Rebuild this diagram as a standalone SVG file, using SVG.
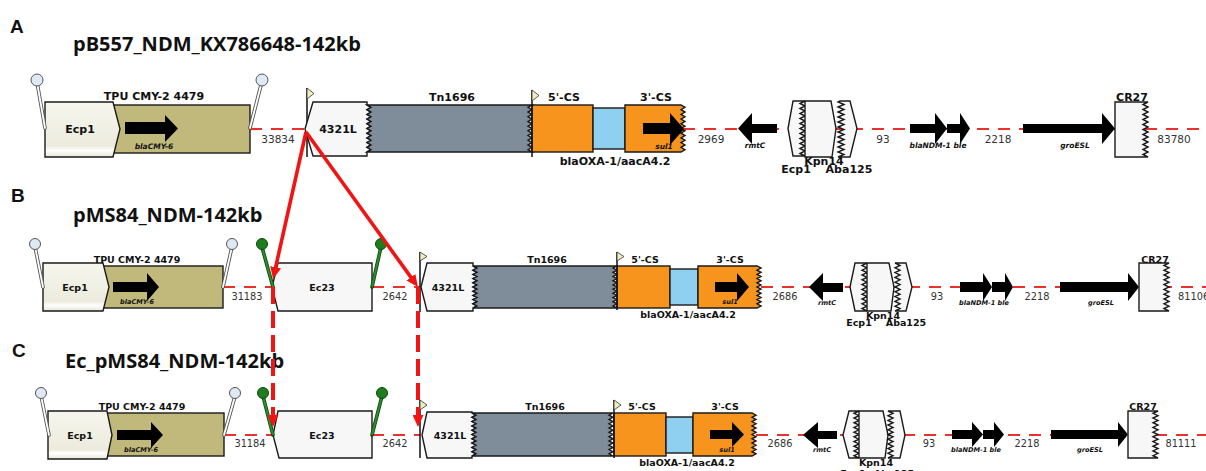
<svg xmlns="http://www.w3.org/2000/svg" width="1206" height="471" viewBox="0 0 1206 471">
<style>
.bx{stroke:#1a1a1a;stroke-width:1.4;stroke-linejoin:miter}
.ol{fill:#c1b97b}.lt{fill:#f7f7f7}.gr{fill:#7f8c99}.or{fill:#f7941d}.bl{fill:#8fd0f0}
.ar{fill:#000}
.vl{stroke:#111;stroke-width:1.5}
.flag{fill:#f1edbd;stroke:#333;stroke-width:0.8}
.bb{stroke:#e8322b;stroke-width:2.2;stroke-dasharray:12 9;fill:none}
.ws{stroke:#555;stroke-width:3.6;stroke-linecap:round}
.wi{stroke:#fff;stroke-width:1.8;stroke-linecap:round}
.wc{fill:#dfe9f3;stroke:#555;stroke-width:1}
.gs{stroke:#0c4a0c;stroke-width:3.6;stroke-linecap:round}
.gi{stroke:#2e8b2e;stroke-width:2}
.gc{fill:#1f7d1f;stroke:#0c4a0c;stroke-width:1}
.big{font-family:"Open Sans","DejaVu Sans",sans-serif;font-weight:bold;font-size:20px;fill:#111}
.let{font-family:"Liberation Sans",Arial,sans-serif;font-weight:bold;font-size:19px;fill:#111}
.la{font-family:"DejaVu Sans",sans-serif;font-weight:bold;font-size:11px;fill:#111;text-anchor:middle}
.lb{font-family:"DejaVu Sans",sans-serif;font-weight:bold;font-size:9.5px;fill:#111;text-anchor:middle}
.na{font-family:"DejaVu Sans",sans-serif;font-size:10.5px;fill:#333;text-anchor:middle}
.nb{font-family:"DejaVu Sans",sans-serif;font-size:9.8px;fill:#333;text-anchor:middle}
.ia{font-family:"DejaVu Sans",sans-serif;font-weight:bold;font-style:italic;font-size:7.5px;fill:#111;text-anchor:middle}
.ib{font-family:"DejaVu Sans",sans-serif;font-weight:bold;font-style:italic;font-size:6.6px;fill:#111;text-anchor:middle}
.red{stroke:#f01414;stroke-width:3.6;fill:none}
.rdash{stroke:#f01414;stroke-width:4;fill:none;stroke-dasharray:17 7}
</style>
<defs>
<linearGradient id="eg" x1="0" y1="0" x2="0" y2="1">
<stop offset="0" stop-color="#f6f6ee"/><stop offset="0.8" stop-color="#ecebdd"/><stop offset="0.88" stop-color="#ffffff"/><stop offset="1" stop-color="#e8e7d8"/>
</linearGradient>
<marker id="ah" markerWidth="12" markerHeight="11" refX="2" refY="5.5" orient="auto" markerUnits="userSpaceOnUse"><path d="M0,0 L12,5.5 L0,11 Z" fill="#f01414"/></marker>
</defs>

<g id="backbones">
<line class="bb" x1="250" y1="129" x2="307" y2="129"/>
<line class="bb" x1="683" y1="129" x2="1206" y2="129"/>
<line class="bb" x1="223" y1="287" x2="273" y2="287"/>
<line class="bb" x1="372" y1="287" x2="420" y2="287"/>
<line class="bb" x1="761" y1="287" x2="1206" y2="287"/>
<line class="bb" x1="224" y1="435" x2="273" y2="435"/>
<line class="bb" x1="372" y1="435" x2="420" y2="435"/>
<line class="bb" x1="756" y1="435" x2="1206" y2="435"/>
</g>

<g id="rowA">
<text class="let" x="10" y="33">A</text>
<text class="big" x="73" y="51">pB557_NDM_KX786648-142kb</text>
<g id="A-tpu">
<rect class="bx ol" x="105" y="105" width="145" height="48"/>
<path class="bx" fill="url(#eg)" d="M45,102 H113 L120,129 L113,157 H45 Z"/>
<text class="la" x="80" y="133">Ecp1</text>
<text class="la" x="154" y="100">TPU CMY-2 4479</text>
<path class="ar" d="M125,122 H165 V115 L178,128.5 L165,142 V134 H125 Z"/>
<text class="ia" x="154" y="149">blaCMY-6</text>
<line class="ws" x1="45" y1="128" x2="37.5" y2="85"/><line class="wi" x1="45" y1="128" x2="37.5" y2="85"/>
<circle class="wc" cx="37" cy="80" r="6"/>
<line class="ws" x1="250" y1="128" x2="261" y2="85"/><line class="wi" x1="250" y1="128" x2="261" y2="85"/>
<circle class="wc" cx="262" cy="80" r="6"/>
</g>
<text class="na" x="278" y="143">33834</text>
<g id="A-tn">
<line class="vl" x1="307" y1="88" x2="307" y2="157"/>
<path class="flag" d="M307,88 L314,93.5 L307,99 Z"/>
<path class="bx lt" d="M305,129 L313,102 H367 V105 l4,2.35l-4,2.35l4,2.35l-4,2.35l4,2.35l-4,2.35l4,2.35l-4,2.35l4,2.35l-4,2.35l4,2.35l-4,2.35l4,2.35l-4,2.35l4,2.35l-4,2.35l4,2.35l-4,2.35l4,2.35l-4,2.35 V156 H313 Z"/>
<text class="la" x="338" y="133">4321L</text>
<path class="bx gr" d="M367,105 H532 l-4,2.35l4,2.35l-4,2.35l4,2.35l-4,2.35l4,2.35l-4,2.35l4,2.35l-4,2.35l4,2.35l-4,2.35l4,2.35l-4,2.35l4,2.35l-4,2.35l4,2.35l-4,2.35l4,2.35l-4,2.35l4,2.35 H367 l4,-2.35l-4,-2.35l4,-2.35l-4,-2.35l4,-2.35l-4,-2.35l4,-2.35l-4,-2.35l4,-2.35l-4,-2.35l4,-2.35l-4,-2.35l4,-2.35l-4,-2.35l4,-2.35l-4,-2.35l4,-2.35l-4,-2.35l4,-2.35l-4,-2.35 Z"/>
<text class="la" x="452" y="101">Tn1696</text>
<rect class="bx or" x="532" y="105" width="61" height="47"/>
<rect class="bx bl" x="593" y="108" width="32" height="41"/>
<path class="bx or" d="M625,105 H681 l4,2.35l-4,2.35l4,2.35l-4,2.35l4,2.35l-4,2.35l4,2.35l-4,2.35l4,2.35l-4,2.35l4,2.35l-4,2.35l4,2.35l-4,2.35l4,2.35l-4,2.35l4,2.35l-4,2.35l4,2.35l-4,2.35 H625 Z"/>
<line class="vl" x1="532" y1="90" x2="532" y2="157"/>
<path class="flag" d="M532,90 L539,95.5 L532,101 Z"/>
<text class="la" x="564" y="101">5'-CS</text>
<text class="la" x="656" y="101">3'-CS</text>
<path class="ar" d="M643,123 H670 V113 L684,129 L670,145 V134 H643 Z"/>
<text class="ia" x="664" y="149">sul1</text>
<text class="la" x="615" y="165">blaOXA-1/aacA4.2</text>
</g>
<text class="na" x="711" y="143">2969</text>
<g id="A-right">
<path class="ar" d="M738,128.5 L752,113 V124 H777 V133 H752 V144 Z"/>
<text class="ia" x="755" y="148">rmtC</text>
<path class="bx lt" d="M788,128.5 L793,101 H805 l-5,2.5l5,2.5l-5,2.5l5,2.5l-5,2.5l5,2.5l-5,2.5l5,2.5l-5,2.5l5,2.5l-5,2.5l5,2.5l-5,2.5l5,2.5l-5,2.5l5,2.5l-5,2.5l5,2.5l-5,2.5l5,2.5l-5,2.5l5,2.5 H793 Z"/>
<path class="bx lt" d="M805,101 H831 L836,128.5 L832,157 H805 Z"/>
<path class="bx lt" d="M840,101 H850 L857,128.5 L850,157 H838 l6,-2.5l-6,-2.5l6,-2.5l-6,-2.5l6,-2.5l-6,-2.5l6,-2.5l-6,-2.5l6,-2.5l-6,-2.5l6,-2.5l-6,-2.5l6,-2.5l-6,-2.5l6,-2.5l-6,-2.5l6,-2.5l-6,-2.5l6,-2.5l-6,-2.5l6,-2.5l-6,-2.5 Z"/>
<text class="la" x="824" y="165">Kpn14</text>
<text class="la" x="796" y="173">Ecp1</text>
<text class="la" x="849" y="173">Aba125</text>
<text class="na" x="883" y="143">93</text>
<path class="ar" d="M910,124 H935 V113 L947,128.5 L935,144 V133 H910 Z"/>
<path class="ar" d="M947,124 H960 V113 L970,128.5 L960,144 V133 H947 Z"/>
<text class="ia" x="938" y="148">blaNDM-1 ble</text>
<text class="na" x="998" y="143">2218</text>
<path class="ar" d="M1023,124 H1102 V113 L1115,128.5 L1102,144 V133 H1023 Z"/>
<text class="ia" x="1075" y="148">groESL</text>
<path class="bx lt" d="M1115,102 H1148 l-5,2.5l5,2.5l-5,2.5l5,2.5l-5,2.5l5,2.5l-5,2.5l5,2.5l-5,2.5l5,2.5l-5,2.5l5,2.5l-5,2.5l5,2.5l-5,2.5l5,2.5l-5,2.5l5,2.5l-5,2.5l5,2.5l-5,2.5l5,2.5 H1115 Z"/>
<text class="la" x="1132" y="101">CR27</text>
<text class="na" x="1174" y="143">83780</text>
</g>
</g>

<g id="rowB">
<text class="let" x="11" y="202">B</text>
<text class="big" x="73" y="222">pMS84_NDM-142kb</text>
<g id="B-tpu">
<rect class="bx ol" x="100" y="266" width="123" height="42"/>
<path class="bx" fill="url(#eg)" d="M43,263 H103 L109,287 L103,311 H43 Z"/>
<text class="lb" x="75" y="290.5">Ecp1</text>
<text class="lb" x="137" y="263">TPU CMY-2 4479</text>
<path class="ar" d="M113,282 H147 V273 L159,287 L147,301 V292 H113 Z"/>
<text class="ib" x="137" y="304">blaCMY-6</text>
<line class="ws" x1="43" y1="287" x2="35.5" y2="249"/><line class="wi" x1="43" y1="287" x2="35.5" y2="249"/>
<circle class="wc" cx="35" cy="244" r="5.5"/>
<line class="ws" x1="223" y1="287" x2="231.5" y2="249"/><line class="wi" x1="223" y1="287" x2="231.5" y2="249"/>
<circle class="wc" cx="232" cy="244" r="5.5"/>
</g>
<text class="nb" x="247" y="300">31183</text>
<g id="B-ec23">
<path class="bx lt" d="M272,287 L278,263 H372 V311 H278 Z"/>
<text class="lb" x="322" y="290.5">Ec23</text>
<line class="gs" x1="273" y1="287" x2="262.5" y2="249"/><line class="gi" x1="273" y1="287" x2="262.5" y2="249"/>
<circle class="gc" cx="262" cy="244" r="5.5"/>
<line class="gs" x1="372" y1="287" x2="380.5" y2="249"/><line class="gi" x1="372" y1="287" x2="380.5" y2="249"/>
<circle class="gc" cx="381" cy="244" r="5.5"/>
</g>
<text class="nb" x="395" y="300">2642</text>
<g id="B-tn">
<line class="vl" x1="420" y1="252" x2="420" y2="312"/>
<path class="flag" d="M420,252 L427,256.5 L420,261 Z"/>
<path class="bx lt" d="M421,287 L427,263 H473 V266 l4,2.1l-4,2.1l4,2.1l-4,2.1l4,2.1l-4,2.1l4,2.1l-4,2.1l4,2.1l-4,2.1l4,2.1l-4,2.1l4,2.1l-4,2.1l4,2.1l-4,2.1l4,2.1l-4,2.1l4,2.1l-4,2.1 V311 H427 Z"/>
<text class="lb" x="448" y="290.5">4321L</text>
<path class="bx gr" d="M473,266 H617 l-4,2.1l4,2.1l-4,2.1l4,2.1l-4,2.1l4,2.1l-4,2.1l4,2.1l-4,2.1l4,2.1l-4,2.1l4,2.1l-4,2.1l4,2.1l-4,2.1l4,2.1l-4,2.1l4,2.1l-4,2.1l4,2.1 H473 l4,-2.1l-4,-2.1l4,-2.1l-4,-2.1l4,-2.1l-4,-2.1l4,-2.1l-4,-2.1l4,-2.1l-4,-2.1l4,-2.1l-4,-2.1l4,-2.1l-4,-2.1l4,-2.1l-4,-2.1l4,-2.1l-4,-2.1l4,-2.1l-4,-2.1 Z"/>
<text class="lb" x="547" y="263">Tn1696</text>
<rect class="bx or" x="617" y="266" width="53" height="42"/>
<rect class="bx bl" x="670" y="269" width="28" height="36"/>
<path class="bx or" d="M698,266 H757 l4,2.1l-4,2.1l4,2.1l-4,2.1l4,2.1l-4,2.1l4,2.1l-4,2.1l4,2.1l-4,2.1l4,2.1l-4,2.1l4,2.1l-4,2.1l4,2.1l-4,2.1l4,2.1l-4,2.1l4,2.1l-4,2.1 H698 Z"/>
<line class="vl" x1="617" y1="252" x2="617" y2="310"/>
<path class="flag" d="M617,252 L624,256.5 L617,261 Z"/>
<text class="lb" x="645" y="263">5'-CS</text>
<text class="lb" x="730" y="263">3'-CS</text>
<path class="ar" d="M715,282 H737 V273 L749,287 L737,301 V292 H715 Z"/>
<text class="ib" x="730" y="304">sul1</text>
<text class="lb" x="688" y="318">blaOXA-1/aacA4.2</text>
</g>
<text class="nb" x="785" y="300">2686</text>
<g id="B-right">
<path class="ar" d="M809,287 L823,273 V283 H843 V292 H823 V301 Z"/>
<text class="ib" x="827" y="305">rmtC</text>
<path class="bx lt" d="M850,287 L855,263 H867 l-5,2.4l5,2.4l-5,2.4l5,2.4l-5,2.4l5,2.4l-5,2.4l5,2.4l-5,2.4l5,2.4l-5,2.4l5,2.4l-5,2.4l5,2.4l-5,2.4l5,2.4l-5,2.4l5,2.4l-5,2.4l5,2.4 H855 Z"/>
<path class="bx lt" d="M867,263 H889 L894,287 L891,311 H867 Z"/>
<path class="bx lt" d="M900,263 H906 L912,287 L906,311 H895 l5,-2.4l-5,-2.4l5,-2.4l-5,-2.4l5,-2.4l-5,-2.4l5,-2.4l-5,-2.4l5,-2.4l-5,-2.4l5,-2.4l-5,-2.4l5,-2.4l-5,-2.4l5,-2.4l-5,-2.4l5,-2.4l-5,-2.4l5,-2.4l-5,-2.4 Z"/>
<text class="lb" x="883" y="319">Kpn14</text>
<text class="lb" x="859" y="326">Ecp1</text>
<text class="lb" x="906" y="326">Aba125</text>
<text class="nb" x="937" y="300">93</text>
<path class="ar" d="M960,282 H983 V273 L992,287 L983,301 V292 H960 Z"/>
<path class="ar" d="M992,282 H1005 V273 L1013,287 L1005,301 V292 H992 Z"/>
<text class="ib" x="984" y="305">blaNDM-1 ble</text>
<text class="nb" x="1037" y="300">2218</text>
<path class="ar" d="M1060,282 H1128 V273 L1139,287 L1128,301 V292 H1060 Z"/>
<text class="ib" x="1101" y="305">groESL</text>
<path class="bx lt" d="M1139,263 H1169 l-5,2.4l5,2.4l-5,2.4l5,2.4l-5,2.4l5,2.4l-5,2.4l5,2.4l-5,2.4l5,2.4l-5,2.4l5,2.4l-5,2.4l5,2.4l-5,2.4l5,2.4l-5,2.4l5,2.4l-5,2.4l5,2.4 H1139 Z"/>
<text class="lb" x="1155" y="263">CR27</text>
<text class="nb" x="1178" y="300" style="text-anchor:start">81106</text>
</g>
</g>

<g id="rowC">
<text class="let" x="12" y="357">C</text>
<text class="big" x="65" y="368">Ec_pMS84_NDM-142kb</text>
<g id="C-tpu">
<rect class="bx ol" x="105" y="413" width="119" height="43"/>
<path class="bx" fill="url(#eg)" d="M48,411 H107 L112,435 L107,459 H48 Z"/>
<text class="lb" x="80" y="438.5">Ecp1</text>
<text class="lb" x="142" y="410">TPU CMY-2 4479</text>
<path class="ar" d="M117,430 H151 V422 L163,435 L151,448 V440 H117 Z"/>
<text class="ib" x="141" y="452">blaCMY-6</text>
<line class="ws" x1="49" y1="435" x2="41.5" y2="398"/><line class="wi" x1="49" y1="435" x2="41.5" y2="398"/>
<circle class="wc" cx="41" cy="393" r="5.5"/>
<line class="ws" x1="224" y1="435" x2="234.5" y2="398"/><line class="wi" x1="224" y1="435" x2="234.5" y2="398"/>
<circle class="wc" cx="235" cy="393" r="5.5"/>
</g>
<text class="nb" x="250" y="447">31184</text>
<g id="C-ec23">
<path class="bx lt" d="M273,435 L278,411 H372 V458 H279 Z"/>
<text class="lb" x="322" y="438.5">Ec23</text>
<line class="gs" x1="273" y1="435" x2="263.5" y2="398"/><line class="gi" x1="273" y1="435" x2="263.5" y2="398"/>
<circle class="gc" cx="263" cy="393" r="5.5"/>
<line class="gs" x1="372" y1="435" x2="381.5" y2="398"/><line class="gi" x1="372" y1="435" x2="381.5" y2="398"/>
<circle class="gc" cx="382" cy="393" r="5.5"/>
</g>
<text class="nb" x="395" y="447">2642</text>
<g id="C-tn">
<line class="vl" x1="420" y1="400" x2="420" y2="458"/>
<path class="flag" d="M420,400 L427,405 L420,410 Z"/>
<path class="bx lt" d="M422,435 L427,412 H472 V413 l4,2.15l-4,2.15l4,2.15l-4,2.15l4,2.15l-4,2.15l4,2.15l-4,2.15l4,2.15l-4,2.15l4,2.15l-4,2.15l4,2.15l-4,2.15l4,2.15l-4,2.15l4,2.15l-4,2.15l4,2.15l-4,2.15 V458 H427 Z"/>
<text class="lb" x="450" y="438.5">4321L</text>
<path class="bx gr" d="M472,413 H613 l-4,2.15l4,2.15l-4,2.15l4,2.15l-4,2.15l4,2.15l-4,2.15l4,2.15l-4,2.15l4,2.15l-4,2.15l4,2.15l-4,2.15l4,2.15l-4,2.15l4,2.15l-4,2.15l4,2.15l-4,2.15l4,2.15 H472 l4,-2.15l-4,-2.15l4,-2.15l-4,-2.15l4,-2.15l-4,-2.15l4,-2.15l-4,-2.15l4,-2.15l-4,-2.15l4,-2.15l-4,-2.15l4,-2.15l-4,-2.15l4,-2.15l-4,-2.15l4,-2.15l-4,-2.15l4,-2.15l-4,-2.15 Z"/>
<text class="lb" x="545" y="410">Tn1696</text>
<rect class="bx or" x="614" y="413" width="52" height="43"/>
<rect class="bx bl" x="666" y="417" width="27" height="36"/>
<path class="bx or" d="M693,413 H752 l4,2.15l-4,2.15l4,2.15l-4,2.15l4,2.15l-4,2.15l4,2.15l-4,2.15l4,2.15l-4,2.15l4,2.15l-4,2.15l4,2.15l-4,2.15l4,2.15l-4,2.15l4,2.15l-4,2.15l4,2.15l-4,2.15 H693 Z"/>
<line class="vl" x1="614" y1="400" x2="614" y2="458"/>
<path class="flag" d="M614,400 L621,405 L614,410 Z"/>
<text class="lb" x="642" y="410">5'-CS</text>
<text class="lb" x="725" y="410">3'-CS</text>
<path class="ar" d="M710,430 H732 V422 L744,434.5 L732,447 V439 H710 Z"/>
<text class="ib" x="727" y="452">sul1</text>
<text class="lb" x="687" y="466">blaOXA-1/aacA4.2</text>
</g>
<text class="nb" x="780" y="447">2686</text>
<g id="C-right">
<path class="ar" d="M803,435 L818,422 V431 H837 V439 H818 V448 Z"/>
<text class="ib" x="822" y="452">rmtC</text>
<path class="bx lt" d="M843,435 L849,411 H859 l-5,2.35l5,2.35l-5,2.35l5,2.35l-5,2.35l5,2.35l-5,2.35l5,2.35l-5,2.35l5,2.35l-5,2.35l5,2.35l-5,2.35l5,2.35l-5,2.35l5,2.35l-5,2.35l5,2.35l-5,2.35l5,2.35 H849 Z"/>
<path class="bx lt" d="M859,411 H883 L888,435 L885,458 H859 Z"/>
<path class="bx lt" d="M893,411 H900 L905,435 L900,458 H888 l5,-2.35l-5,-2.35l5,-2.35l-5,-2.35l5,-2.35l-5,-2.35l5,-2.35l-5,-2.35l5,-2.35l-5,-2.35l5,-2.35l-5,-2.35l5,-2.35l-5,-2.35l5,-2.35l-5,-2.35l5,-2.35l-5,-2.35l5,-2.35l-5,-2.35 Z"/>
<text class="lb" x="876" y="466">Kpn14</text>
<text class="lb" x="853" y="477">Ecp1</text>
<text class="lb" x="894" y="477">Aba125</text>
<text class="nb" x="929" y="447">93</text>
<path class="ar" d="M952,430 H972 V422 L983,434.5 L972,447 V439 H952 Z"/>
<path class="ar" d="M983,430 H994 V422 L1004,434.5 L994,447 V439 H983 Z"/>
<text class="ib" x="976" y="452">blaNDM-1 ble</text>
<text class="nb" x="1027" y="447">2218</text>
<path class="ar" d="M1051,430 H1118 V422 L1128,434.5 L1118,447 V439 H1051 Z"/>
<text class="ib" x="1090" y="452">groESL</text>
<path class="bx lt" d="M1128,411 H1158 l-5,2.35l5,2.35l-5,2.35l5,2.35l-5,2.35l5,2.35l-5,2.35l5,2.35l-5,2.35l5,2.35l-5,2.35l5,2.35l-5,2.35l5,2.35l-5,2.35l5,2.35l-5,2.35l5,2.35l-5,2.35l5,2.35 H1128 Z"/>
<text class="lb" x="1143" y="410">CR27</text>
<text class="nb" x="1181" y="447">81111</text>
</g>
</g>

<g id="connectors">
<line class="red" x1="306" y1="132" x2="275.2" y2="269.2" marker-end="url(#ah)"/>
<line class="red" x1="306" y1="132" x2="412.1" y2="278.9" marker-end="url(#ah)"/>
<line class="rdash" x1="273" y1="287" x2="273" y2="417" marker-end="url(#ah)"/>
<line class="rdash" x1="418" y1="287" x2="418" y2="417" marker-end="url(#ah)"/>
</g>
</svg>
